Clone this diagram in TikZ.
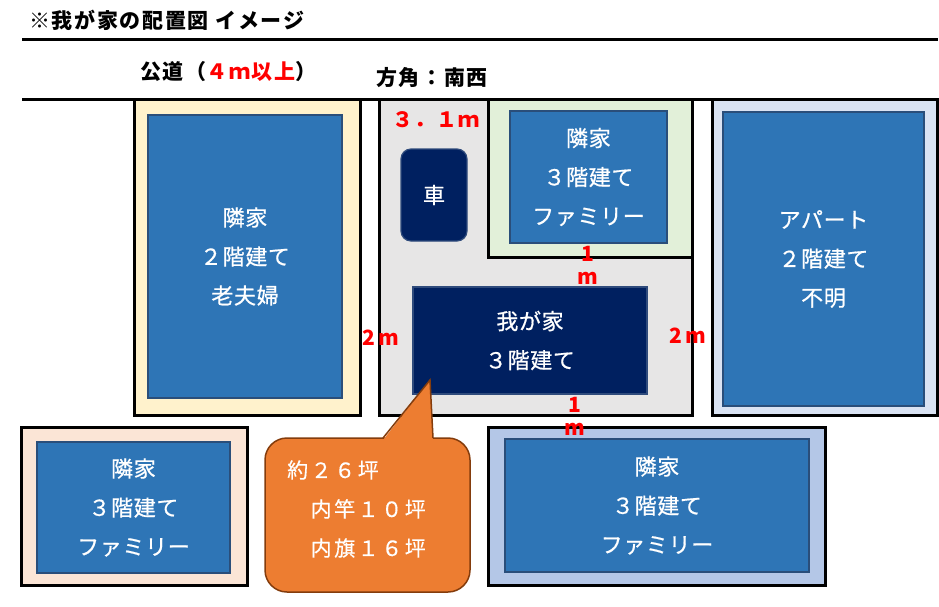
\documentclass[tikz,border=0pt]{standalone}
\usepackage{fontspec}
\setmainfont{Noto Sans CJK JP}
\newfontfamily\lblfont{Noto Sans CJK JP}[LetterSpace=3,FakeBold=0.7]
\newfontfamily\calfont{Noto Sans CJK JP}[LetterSpace=12,FakeBold=0.4]
\newfontfamily\ttlfont{Noto Sans CJK JP}[LetterSpace=8]
\newfontfamily\dimfont{Noto Sans CJK JP}[LetterSpace=6]
\definecolor{hblue}{HTML}{2E75B6}
\definecolor{hborder}{HTML}{2A4E7A}
\definecolor{navy}{HTML}{002060}
\definecolor{navyborder}{HTML}{2F4B7C}
\definecolor{cream}{HTML}{FFF2CC}
\definecolor{lgreen}{HTML}{E2F0D9}
\definecolor{lgray}{HTML}{E7E6E6}
\definecolor{lavender}{HTML}{DAE3F3}
\definecolor{peach}{HTML}{FBE5D6}
\definecolor{lblue}{HTML}{B4C7E7}
\definecolor{corange}{HTML}{ED7D31}
\definecolor{cborder}{HTML}{843C0C}
\definecolor{dimred}{HTML}{FF0000}
\begin{document}
\begin{tikzpicture}[x=1pt,y=-1pt,
  lot/.style={draw=black, line width=3pt, inner sep=0pt},
  house/.style={fill=hblue, draw=hborder, line width=1.2pt, inner sep=0pt, text=white, align=center,
    font=\lblfont\fontsize{22pt}{39pt}\selectfont},
  ourhouse/.style={house, fill=navy, draw=navyborder},
  dim/.style={text=dimred, inner sep=0pt, align=center, font=\dimfont\bfseries\fontsize{21pt}{23pt}\selectfont},
  heading/.style={inner sep=0pt, anchor=west, font=\ttlfont\bfseries\fontsize{21pt}{23pt}\selectfont},
  callout/.style={fill=corange, draw=cborder, line width=1.5pt, rounded corners=22pt, inner sep=0pt},
  roadline/.style={line width=3pt, black}
]
\useasboundingbox (0,0) rectangle (939,607);

% title and road
\node[heading] (title) at (29,20) {※我が家の配置図 イメージ};
\coordinate (topL) at (22,40);
\coordinate (topR) at (938,40);
\draw[roadline] (topL) -- (topR);
\node[heading] (road) at (140,72) {公道（\textcolor{dimred}{４ｍ以上}）};
\node[heading] (dir) at (376,78) {方角：南西};
\coordinate (roadL) at (22,100);
\coordinate (roadR) at (938,100);
\draw[roadline] (roadL) -- (roadR);

% lots
\node[lot, fill=cream, minimum width=226pt, minimum height=315pt] (lotL) at (247,257.5) {};
\node[lot, fill=lgray, minimum width=313pt, minimum height=315pt] (lotOurs) at (535.5,257.5) {};
\node[lot, fill=lgreen, minimum width=204pt, minimum height=157pt] (lotG) at (590,178.5) {};
\node[lot, fill=lavender, minimum width=225pt, minimum height=315pt] (lotApt) at (824.5,257.5) {};
\node[lot, fill=peach, minimum width=226pt, minimum height=158pt] (lotBL) at (134,506) {};
\node[lot, fill=lblue, minimum width=337pt, minimum height=158pt] (lotBR) at (656.5,506) {};

% houses
\node[house, minimum width=194pt, minimum height=283pt] (hL) at (245,256.5) {隣家\\２階建て\\老夫婦};
\node[house, minimum width=157pt, minimum height=132pt] (hG) at (588.5,177) {隣家\\３階建て\\ファミリー};
\node[house, minimum width=201pt, minimum height=294pt] (hApt) at (823.5,259) {アパート\\２階建て\\不明};
\node[house, minimum width=193pt, minimum height=131pt] (hBL) at (133.5,507.5) {隣家\\３階建て\\ファミリー};
\node[house, minimum width=304pt, minimum height=133pt] (hBR) at (657,505.5) {隣家\\３階建て\\ファミリー};
\node[ourhouse, minimum width=234pt, minimum height=107pt] (ours) at (530,340.5) {我が家\\３階建て};
\node[ourhouse, rounded corners=10pt, minimum width=66pt, minimum height=92pt] (car) at (434,195) {車};

% dimensions
\node[dim] (d31) at (436,120) {３．１ｍ};
\node[dim] (d1a) at (588,265) {1\\m};
\node[dim] (d1b) at (575,416) {1\\m};
\node[dim] (d2l) at (381,338) {2\,m};
\node[dim] (d2r) at (688,336) {2\,m};

% callout
\node[callout, minimum width=205pt, minimum height=154pt] (cbox) at (367.5,515) {};
\coordinate (tip) at (430,380);
\coordinate (bl) at (383,438);
\coordinate (br) at (433,438);
\fill[corange] ([yshift=-2pt]bl) -- (tip) -- ([yshift=-2pt]br) -- cycle;
\draw[cborder, line width=1.5pt, line join=miter] (bl) -- (tip) -- (br);
\node[inner sep=0pt, anchor=west, align=left, text=white, font=\calfont\fontsize{21pt}{39pt}\selectfont] (ctext) at (287,509) {約２６坪\\　内竿１０坪\\　内旗１６坪};
\end{tikzpicture}
\end{document}
